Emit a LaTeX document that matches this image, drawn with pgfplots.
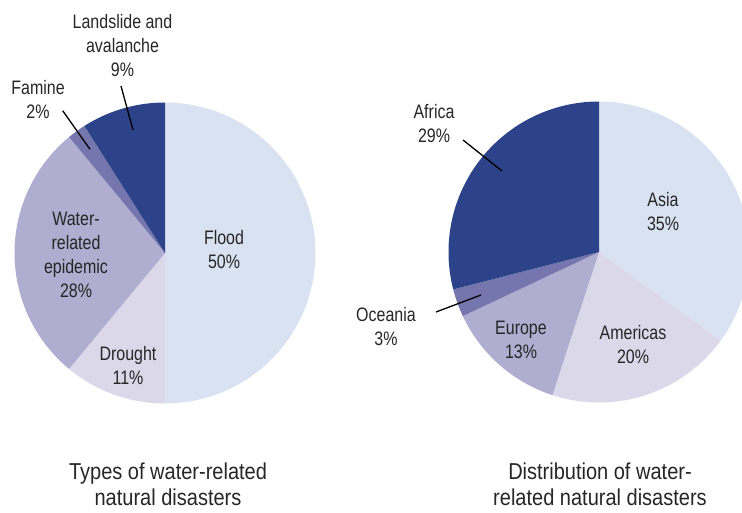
\documentclass[border=0pt]{standalone}
\usepackage{fontspec}
\setmainfont{Liberation Sans}[FakeStretch=0.82]
\newfontfamily\titlefont{Liberation Sans}[FakeStretch=0.87]
\usepackage{pgfplots}
\pgfplotsset{compat=1.18}

\definecolor{cA}{HTML}{D9E2F1}
\definecolor{cB}{HTML}{DBD8EA}
\definecolor{cC}{HTML}{AFADD0}
\definecolor{cD}{HTML}{7676AE}
\definecolor{cE}{HTML}{2C4289}

\tikzset{
  lbl/.style={font=\fontsize{19.5}{24}\selectfont, align=center, inner sep=0pt, text=black!85},
  ttl/.style={font=\titlefont\fontsize{23}{26}\selectfont, align=center, inner sep=0pt, text=black!85},
}

% slice: centre x, centre y, radius, start (percent), value (percent), colour
\newcommand{\pieslice}[6]{%
  \addplot[fill=#6, draw=none, domain={90-(#4+#5)*3.6}:{90-(#4)*3.6}, samples=90]
    ({#1+#3*cos(x)}, {#2-#3*sin(x)}) -- (axis cs:#1,#2) -- cycle;
}

\begin{document}
\begin{tikzpicture}
\begin{axis}[
  scale only axis, width=742pt, height=512pt,
  xmin=0, xmax=742, ymin=0, ymax=512, y dir=reverse,
  hide axis, clip=true,
]
% Left pie: types of water-related natural disasters
% Flood 50, Drought 11, Water-related epidemic 28, Famine 2, Landslide and avalanche 9
\pieslice{165}{253}{150.5}{0}{50}{cA}
\pieslice{165}{253}{150.5}{50}{11}{cB}
\pieslice{165}{253}{150.5}{61}{28}{cC}
\pieslice{165}{253}{150.5}{89}{2}{cD}
\pieslice{165}{253}{150.5}{91}{9}{cE}

% Right pie: distribution
% Asia 35, Americas 20, Europe 13, Oceania 3, Africa 29
\pieslice{599}{252}{150.5}{0}{35}{cA}
\pieslice{599}{252}{150.5}{35}{20}{cB}
\pieslice{599}{252}{150.5}{55}{13}{cC}
\pieslice{599}{252}{150.5}{68}{3}{cD}
\pieslice{599}{252}{150.5}{71}{29}{cE}

% leader lines
\addplot[black, line width=1.3pt] coordinates {(121,86) (133,130)};
\addplot[black, line width=1.3pt] coordinates {(62.7,110.7) (90,149.3)};
\addplot[black, line width=1.3pt] coordinates {(436,312) (481,295)};
\addplot[black, line width=1.3pt] coordinates {(463,140) (502,171)};

% labels
\node[lbl] at (axis cs:122.5,46) {Landslide and\\avalanche\\9\%};
\node[lbl] at (axis cs:38,99.5) {Famine\\2\%};
\node[lbl] at (axis cs:76,255) {Water-\\related\\epidemic\\28\%};
\node[lbl] at (axis cs:224,250) {Flood\\50\%};
\node[lbl] at (axis cs:128,365) {Drought\\11\%};
\node[lbl] at (axis cs:663,212) {Asia\\35\%};
\node[lbl] at (axis cs:633,345) {Americas\\20\%};
\node[lbl] at (axis cs:521,340) {Europe\\13\%};
\node[lbl] at (axis cs:386,327) {Oceania\\3\%};
\node[lbl] at (axis cs:434,124) {Africa\\29\%};

\node[ttl] at (axis cs:168,484) {Types of water-related\\natural disasters};
\node[ttl] at (axis cs:600,484) {Distribution of water-\\related natural disasters};
\end{axis}
\pgfresetboundingbox
\path[use as bounding box] (current axis.south west) rectangle (current axis.north east);
\end{tikzpicture}
\end{document}
